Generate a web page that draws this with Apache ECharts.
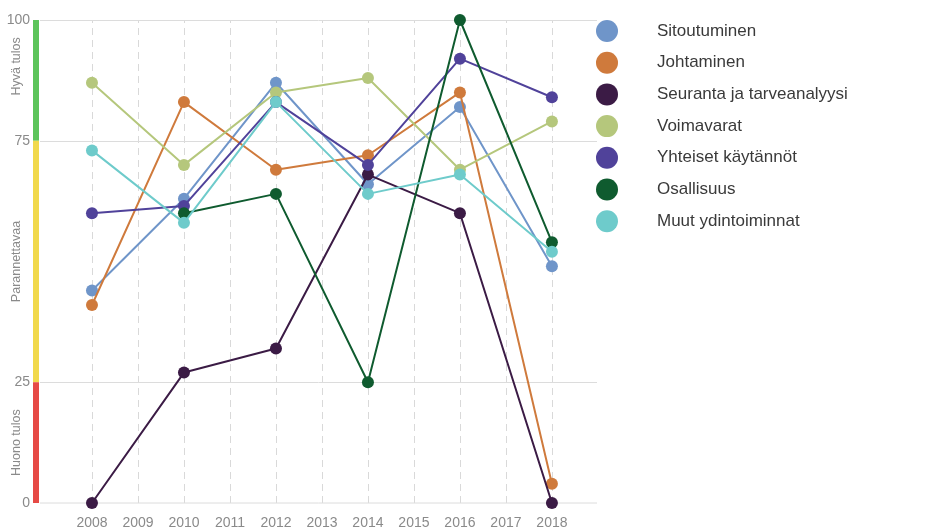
<!DOCTYPE html>
<html><head><meta charset="utf-8">
<script src="https://cdn.jsdelivr.net/npm/echarts@6/dist/echarts.min.js"></script>
<style>html,body{margin:0;padding:0;background:#fff}#c{width:925px;height:531px}</style>
</head><body><div id="c"></div>
<script>
const years = [2008, 2009, 2010, 2011, 2012, 2013, 2014, 2015, 2016, 2017, 2018];
const dataYears = [2008, 2010, 2012, 2014, 2016, 2018];
const seriesNames = ['Sitoutuminen', 'Johtaminen', 'Seuranta ja tarveanalyysi', 'Voimavarat', 'Yhteiset käytännöt', 'Osallisuus', 'Muut ydintoiminnat'];
const sitoutuminen = [44, 63, 87, 66, 82, 49];
const johtaminen = [41, 83, 69, 72, 85, 4];
const seuranta = [0, 27, 32, 68, 60, 0];
const voimavarat = [87, 70, 85, 88, 69, 79];
const yhteiset = [60, 61.5, 83, 70, 92, 84];
const osallisuus = [null, 60, 64, 25, 100, 54];
const muut = [73, 58, 83, 64, 68, 52];
const yTicks = [0, 25, 75, 100];
const bands = [
  {name: 'Hyvä tulos', from: 75, to: 100, color: '#5cc45a'},
  {name: 'Parannettavaa', from: 25, to: 75, color: '#f1d94c'},
  {name: 'Huono tulos', from: 0, to: 25, color: '#e64a45'}
];
const colors = ['#6f95c9', '#cf7a3c', '#3b1b45', '#b5c77c', '#50429a', '#0f5b2f', '#6ecbcb'];
const values = [sitoutuminen, johtaminen, seuranta, voimavarat, yhteiset, osallisuus, muut];

const chart = echarts.init(document.getElementById('c'));
const series = seriesNames.map((n, i) => ({
  name: n, type: 'line',
  data: dataYears.map((y, j) => [y, values[i][j]]),
  connectNulls: false,
  symbol: 'circle', symbolSize: 12,
  lineStyle: {width: 2, color: colors[i]},
  itemStyle: {color: colors[i]},
  z: 10 + i
}));
series.unshift({
  type: 'line', data: [], silent: true, z: 1,
  markLine: {
    silent: true, symbol: 'none', label: {show: false}, z: 1,
    data: years.map(y => ({xAxis: y, lineStyle: {type: [7, 5], color: '#d9d9d9', width: 1}}))
      .concat([25, 75, 100].map(v => ({yAxis: v, lineStyle: {type: 'solid', color: '#dcdcdc', width: 1}})))
  }
});
chart.setOption({
  animation: false,
  color: colors,
  grid: {left: 40, right: 328, top: 20, bottom: 28},
  legend: {
    orient: 'vertical', left: 591, top: 15, itemWidth: 22, itemHeight: 22, itemGap: 9.7,
    icon: 'circle',
    textStyle: {fontSize: 17, color: '#3a3a3a', fontFamily: 'Liberation Sans, Arial, sans-serif', padding: [0, 0, 0, 34]},
    data: seriesNames
  },
  xAxis: {
    type: 'value', min: 2006.87, max: 2018.98,
    axisLine: {show: false}, axisTick: {show: false}, splitLine: {show: false},
    axisLabel: {customValues: years, color: '#8a8a8a', fontSize: 14, margin: 13, formatter: v => String(v)}
  },
  yAxis: {
    type: 'value', min: 0, max: 100,
    axisLine: {show: false},
    axisTick: {show: false}, splitLine: {show: false},
    axisLabel: {customValues: yTicks, color: '#8a8a8a', fontSize: 14, margin: 10}
  },
  series: series
});
const g = [];
bands.forEach(b => {
  const y1 = chart.convertToPixel({yAxisIndex: 0}, b.to);
  const y2 = chart.convertToPixel({yAxisIndex: 0}, b.from);
  g.push({type: 'rect', shape: {x: 33, y: y1, width: 6, height: y2 - y1}, style: {fill: b.color}, z: 10});
  g.push({type: 'text', x: 17, y: (y1 + y2) / 2 - (b.from === 75 ? 14 : 0), rotation: Math.PI / 2,
    style: {text: b.name, fill: '#8a8a8a', fontSize: 12.5, align: 'center', verticalAlign: 'middle', fontFamily: 'Liberation Sans, Arial, sans-serif'}, z: 10});
});
const y0 = chart.convertToPixel({yAxisIndex: 0}, 0);
g.push({type: 'line', shape: {x1: 40, y1: y0, x2: 597, y2: y0}, style: {stroke: '#dcdcdc', lineWidth: 1}, z: 1});
chart.setOption({graphic: g});
</script>
</body></html>
